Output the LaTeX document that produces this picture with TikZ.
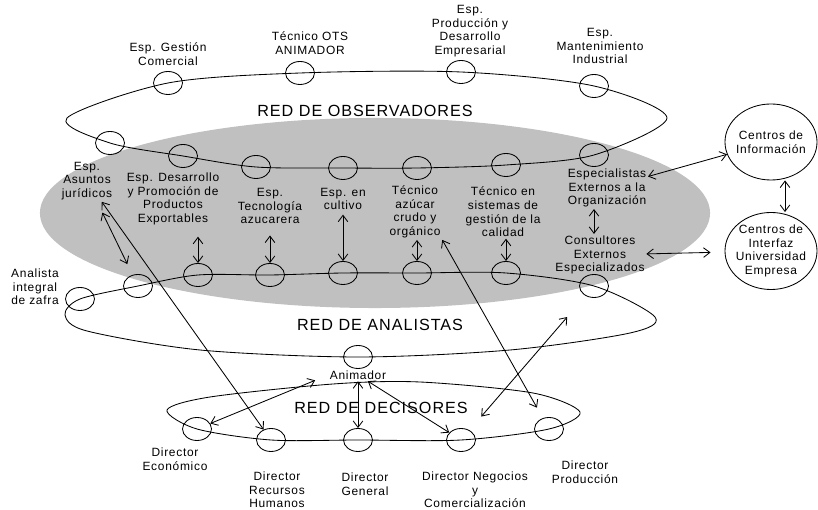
\documentclass[tikz,border=0pt]{standalone}
\usepackage{fontspec}
\setmainfont{Liberation Sans}[LetterSpace=6]
\usepackage{xcolor}
\usetikzlibrary{arrows.meta,shapes.geometric}
\definecolor{gris}{RGB}{192,192,192}

\begin{document}
\begin{tikzpicture}[x=0.025cm,y=-0.025cm,line width=0.6pt,
  nodo/.style={ellipse,draw,minimum width=0.725cm,minimum height=0.575cm,inner sep=0pt},
  etiq/.style={align=center,inner sep=1pt,font=\fontsize{8.5}{9.7}\selectfont},
  red/.style={inner sep=1pt,font=\fontsize{11.5}{13}\selectfont},
  centro/.style={ellipse,draw,minimum width=2.3cm,minimum height=1.9cm,inner xsep=-2pt,inner ysep=0pt,align=center,font=\fontsize{8.5}{9.7}\selectfont},
  flecha/.style={<->,>={Straight Barb[length=1.6mm,width=2.4mm]}}]
  \useasboundingbox (0,0) rectangle (818,510);
  \fill[gris] (375,213) ellipse [x radius=8.375cm, y radius=2.375cm];

  % red de observadores
  \node[nodo] (og) at (168,83) {};
  \node[nodo] (ot) at (300,73) {};
  \node[nodo] (op) at (461,72) {};
  \node[nodo] (om) at (594,86) {};
  \node[nodo] (o1) at (110,143) {};
  \node[nodo] (o2) at (183,156) {};
  \node[nodo] (o3) at (256,167) {};
  \node[nodo] (o4) at (343,168) {};
  \node[nodo] (o5) at (417,168) {};
  \node[nodo] (o6) at (506,165) {};
  \node[nodo] (o7) at (594,155) {};
  \coordinate (oi) at (67,118);
  \coordinate (od) at (667,118);
  \draw plot[smooth cycle,tension=0.5] coordinates {(oi) (og.center) (ot.center) (op.center) (om.center) (od) (o7.center) (o6.center) (o5.center) (o4.center) (o3.center) (o2.center) (o1.center)};

  \node[etiq] (lg) at (168,54) {Esp. Gestión\\Comercial};
  \node[etiq] (lt) at (310,43) {Técnico OTS\\ANIMADOR};
  \node[etiq] (lp) at (470,31) {Esp.\\Producción y\\Desarrollo\\Empresarial};
  \node[etiq] (lm) at (600,46) {Esp.\\Mantenimiento\\Industrial};
  \node[red] (tobs) at (365,111) {RED DE OBSERVADORES};
  \node[etiq] (l1) at (87,181) {Esp.\\Asuntos\\jurídicos};
  \node[etiq] (l2) at (173,199) {Esp. Desarrollo\\y Promoción de\\Productos\\Exportables};
  \node[etiq] (l3) at (270,206) {Esp.\\Tecnología\\azucarera};
  \node[etiq] (l4) at (343,199) {Esp. en\\cultivo};
  \node[etiq] (l5) at (415,212) {Técnico\\azúcar\\crudo y\\orgánico};
  \node[etiq] (l6) at (503,212) {Técnico en\\sistemas de\\gestión de la\\calidad};
  \node[etiq] (l7) at (607,188) {Especialistas\\Externos a la\\Organización};
  \node[etiq] (lc) at (600,255) {Consultores\\Externos\\Especializados};

  % red de analistas
  \node[nodo] (a0) at (80,299) {};
  \node[nodo] (a1) at (138,286) {};
  \node[nodo] (a2) at (198,275) {};
  \node[nodo] (a3) at (270,275) {};
  \node[nodo] (a4) at (343,273) {};
  \node[nodo] (a5) at (417,273) {};
  \node[nodo] (a6) at (506,273) {};
  \node[nodo] (a7) at (594,286) {};
  \node[nodo] (an) at (358,357) {};
  \coordinate (ai) at (65,315);
  \coordinate (ad) at (655,317);
  \coordinate (ab1) at (630,333);
  \coordinate (ab2) at (510,350);
  \coordinate (ab3) at (200,350);
  \coordinate (ab4) at (87,331);
  \draw plot[smooth cycle,tension=0.5] coordinates {(ai) (a0.center) (a1.center) (a2.center) (a3.center) (a4.center) (a5.center) (a6.center) (a7.center) (ad) (ab1) (ab2) (an.center) (ab3) (ab4)};
  \node[etiq] (la) at (35,287) {Analista\\integral\\de zafra};
  \node[red] (tana) at (380,325) {RED DE ANALISTAS};
  \node[etiq] (anim) at (358,375) {Animador};

  % red de decisores
  \node[nodo] (d1) at (197,429) {};
  \node[nodo] (d2) at (271,440) {};
  \node[nodo] (d3) at (358,440) {};
  \node[nodo] (d4) at (461,440) {};
  \node[nodo] (d5) at (549,429) {};
  \coordinate (di) at (167,410);
  \coordinate (dt1) at (210,397);
  \coordinate (dt2) at (333,384);
  \coordinate (dt3) at (420,382);
  \coordinate (dt4) at (533,393);
  \coordinate (dd) at (580,412);
  \draw plot[smooth cycle,tension=0.5] coordinates {(di) (dt1) (dt2) (dt3) (dt4) (dd) (d5.center) (d4.center) (d3.center) (d2.center) (d1.center)};
  \node[red] (tdec) at (381,408) {RED DE DECISORES};
  \node[etiq] (ld1) at (175,459) {Director\\Económico};
  \node[etiq] (ld2) at (277,490) {Director\\Recursos\\Humanos};
  \node[etiq] (ld3) at (365,484) {Director\\General};
  \node[etiq] (ld4) at (475,490) {Director Negocios\\y\\Comercialización};
  \node[etiq] (ld5) at (585,472) {Director\\Producción};

  % centros externos
  \node[centro] (info) at (771,142) {Centros de\\Información};
  \node[centro,minimum height=1.925cm] (interfaz) at (771,251) {Centros de\\Interfaz\\Universidad\\Empresa};

  % flechas
  \draw[flecha,shorten <=7pt] (l2.south -| a2) -- (a2.north);
  \draw[flecha,shorten <=7pt] (l3.south -| a3) -- (a3.north);
  \draw[flecha,shorten <=2pt] (l4.south -| a4) -- (a4.north);
  \draw[flecha] (l5.south -| a5) -- (a5.north);
  \draw[flecha] (l6.south -| a6) -- (a6.north);
  \draw[flecha] (l7.south -| o7) -- (lc.north -| o7);
  \draw[flecha,shorten <=3mm,shorten >=3mm] (l1) -- (a1);
  \draw[flecha] (l1) -- (d2);
  \draw[flecha,shorten >=3mm] (l5.south east) -- (d5);
  \draw[flecha,shorten >=3.5mm] (d1) -- (anim.west);
  \draw[flecha] (anim.south -| d3) -- (d3);
  \draw[flecha] (anim) -- (d4);
  \draw[flecha,shorten <=4.5mm,shorten >=7mm] (d4) -- (a7);
  \draw[flecha] (l7) -- (info);
  \draw[flecha,shorten >=3.5mm] (lc) -- (interfaz);
  \draw[flecha] ([xshift=0.35cm]info.south) -- ([xshift=0.35cm]interfaz.north);
\end{tikzpicture}
\end{document}
